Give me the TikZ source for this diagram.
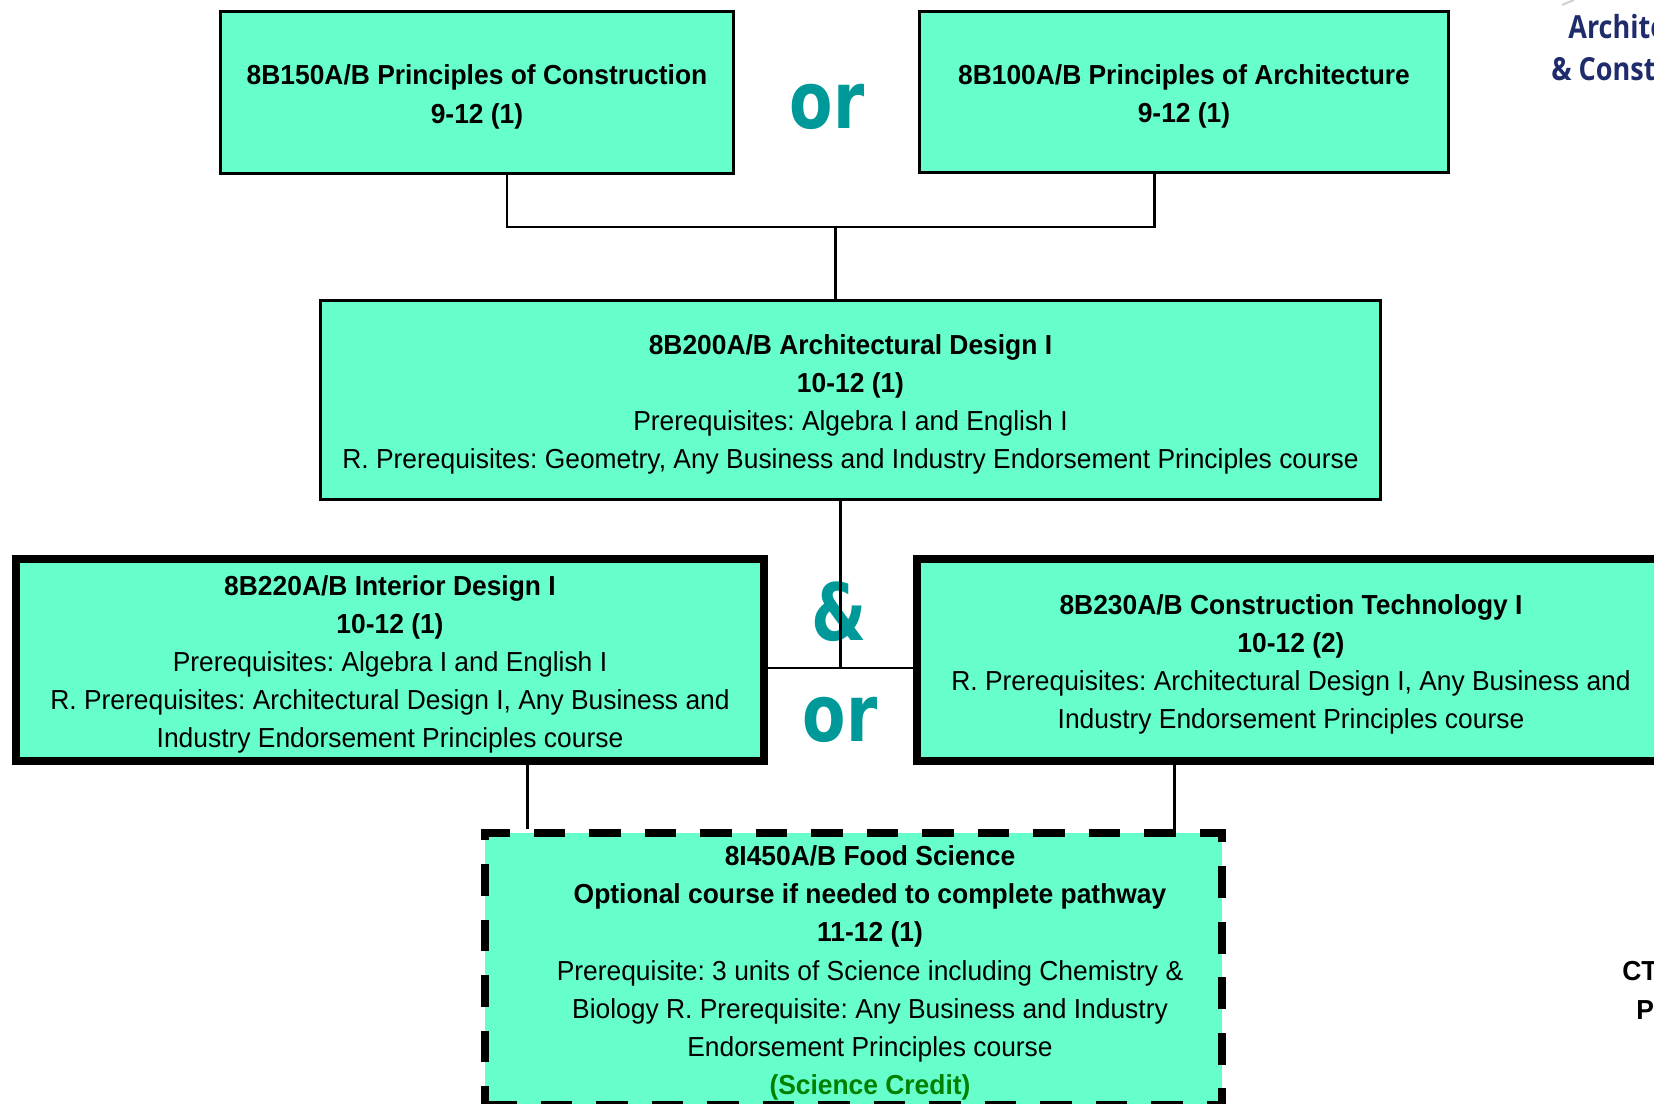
\documentclass[tikz,border=0pt]{standalone}
\usepackage{fontspec}
\setmainfont[FakeStretch=0.96]{Liberation Sans}
\newfontfamily\wordfont[FakeStretch=0.8]{DejaVu Sans}
\newfontfamily\logofont[FakeStretch=0.85]{Open Sans}
\definecolor{boxfill}{HTML}{66FFCC}
\definecolor{wordteal}{HTML}{009999}
\definecolor{logonavy}{HTML}{1F2C6B}
\definecolor{creditgreen}{HTML}{008000}
\newcommand{\toplead}{\rule{0pt}{16.4pt}}
\frenchspacing
\begin{document}
\begin{tikzpicture}[x=0.02cm, y=-0.02cm,
    course/.style={draw, fill=boxfill, line width=1.7pt, align=center, inner sep=0pt,
      font=\fontsize{15.65pt}{21.7pt}\selectfont},
    thickcourse/.style={course, line width=4.5pt},
    optcourse/.style={course, line width=4.3pt, dash pattern=on 18pt off 13.6pt},
    bodytext/.style={align=center, inner sep=0pt, font=\fontsize{15.65pt}{21.7pt}\selectfont},
    word/.style={inner sep=0pt, text=wordteal, font=\wordfont\bfseries\fontsize{45pt}{50pt}\selectfont},
    logo/.style={inner sep=0pt, text=logonavy, font=\logofont\bfseries\fontsize{18.1pt}{22pt}\selectfont},
    link/.style={line width=1.7pt}]
  \useasboundingbox (0,0) rectangle (1654,1104);
  \clip (0,0) rectangle (1654,1104);

  % first year choices
  \node[course, minimum width=10.28cm, minimum height=3.26cm] (pcon) at (477,92.5)
    {\toplead\textbf{8B150A/B Principles of Construction}\\\textbf{9-12 (1)}};
  \node[course, minimum width=10.6cm, minimum height=3.24cm] (parch) at (1184,92)
    {\toplead\textbf{8B100A/B Principles of Architecture}\\\textbf{9-12 (1)}};
  \node[word] (or1) at (827,107) {or};

  % design I
  \node[course, minimum width=21.22cm, minimum height=4cm] (ad) at (850.5,400)
    {\toplead\textbf{8B200A/B Architectural Design I}\\\textbf{10-12 (1)}\\
     Prerequisites: Algebra I and English I\\
     R. Prerequisites: Geometry, Any Business and Industry Endorsement Principles course};

  % second level
  \node[thickcourse, minimum width=14.97cm, minimum height=4.03cm] (id) at (390,660)
    {\toplead\textbf{8B220A/B Interior Design I}\\\textbf{10-12 (1)}\\
     Prerequisites: Algebra I and English I\\
     R. Prerequisites: Architectural Design I, Any Business and\\
     Industry Endorsement Principles course};
  \node[thickcourse, minimum width=14.97cm, minimum height=4.03cm] (ct) at (1291,660)
    {\toplead\textbf{8B230A/B Construction Technology I}\\\textbf{10-12 (2)}\\
     R. Prerequisites: Architectural Design I, Any Business and\\
     Industry Endorsement Principles course};
  \node[word] (amp) at (839,612) {\&};
  \node[word] (or2) at (840,720) {or};

  % optional course
  \node[optcourse, minimum width=14.74cm, minimum height=5.44cm] (fs) at (853.5,969) {};
  \node[bodytext] (fstext) at (870,973)
    {\textbf{8I450A/B Food Science}\\
     \textbf{Optional course if needed to complete pathway}\\
     \textbf{11-12 (1)}\\
     Prerequisite: 3 units of Science including Chemistry \&\\
     Biology R. Prerequisite: Any Business and Industry\\
     Endorsement Principles course\\
     \textcolor{creditgreen}{\textbf{(Science Credit)}}};

  % side texts
  \node[logo, anchor=base west] (arch) at (1568,39) {Architecture};
  \node[logo, anchor=base west] (cons) at (1551,81) {\& Construction};
  \node[bodytext, anchor=base west] (cte) at (1622,980) {\textbf{CT}};
  \node[bodytext, anchor=base west] (path) at (1636,1019) {\textbf{Pa}};
  \draw[gray!35, line width=1.2pt] (1562,5) -- (1574,0);

  % connectors
  \coordinate (topjoin) at (835,227);
  \coordinate (midjoin) at (840,668);
  \draw[link] ([xshift=0.6cm]pcon.south) |- (topjoin) -| ([xshift=-0.6cm]parch.south);
  \draw[link] (topjoin) -- (topjoin |- ad.north);
  \draw[link] (midjoin |- ad.south) -- (midjoin);
  \draw[link] (id.east |- midjoin) -- (ct.west |- midjoin);
  \draw[link] ([xshift=2.76cm]id.south) coordinate (idleg) -- (idleg |- fs.north);
  \draw[link] ([xshift=-2.34cm]ct.south) coordinate (ctleg) -- (ctleg |- fs.north);
\end{tikzpicture}
\end{document}
